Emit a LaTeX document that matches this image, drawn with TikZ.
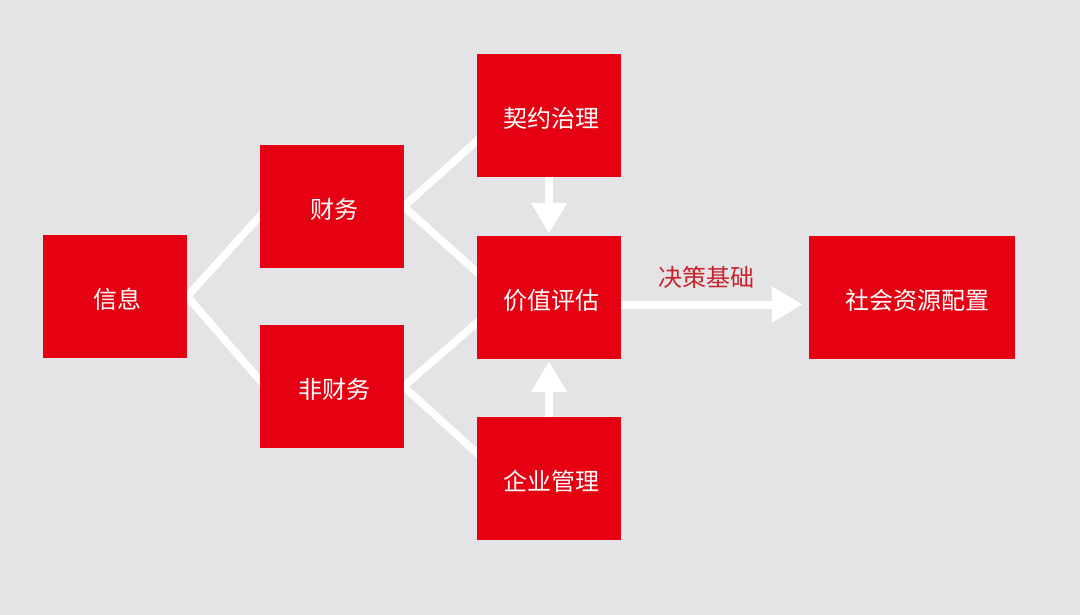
\documentclass[tikz,border=0pt]{standalone}
\usepackage{fontspec}
\setmainfont{Noto Sans CJK SC}
\usetikzlibrary{arrows.meta}
\pgfdeclarelayer{background}
\pgfsetlayers{background,main}
\definecolor{bg}{HTML}{E4E4E6}
\definecolor{boxred}{HTML}{E50012}
\definecolor{labred}{HTML}{C9232B}
\newcommand{\boxtxt}[1]{\raisebox{-12pt}[0pt][0pt]{\hspace{5pt}#1}}
\begin{document}
\begin{tikzpicture}[x=1pt,y=-1pt,
  box/.style={fill=boxred, draw=none, inner sep=0pt, text=white,
    minimum width=144pt, minimum height=123pt,
    font=\fontsize{24}{28}\selectfont},
  link/.style={draw=white, line width=7.5pt, line join=miter},
  arr/.style={draw=white, line width=8pt, -{Triangle[width=34pt,length=31pt]}}]
\node[box] (xinxi) at (115,296.5) {\boxtxt{信息}};
\node[box] (caiwu) at (331.5,206.5) {\boxtxt{财务}};
\node[box] (feicaiwu) at (331.5,386.5) {\boxtxt{非财务}};
\node[box] (qiyue) at (549,115.5) {\boxtxt{契约治理}};
\node[box] (jiazhi) at (549,297.5) {\boxtxt{价值评估}};
\node[box] (qiye) at (549,478.5) {\boxtxt{企业管理}};
\node[box, minimum width=206pt] (shehui) at (912,297.5) {\boxtxt{\hspace{5pt}社会资源配置}};
\node[text=labred, font=\fontsize{24}{28}\selectfont] (jueceji) at (706,277) {决策基础};
\begin{pgfonlayer}{background}
\fill[bg] (0,0) rectangle (1080,615);
\draw[link] ([xshift=6pt,yshift=-3.5pt]caiwu.west) -- (xinxi.east) -- ([xshift=6pt]feicaiwu.west);
\draw[link] ([xshift=6pt,yshift=-20pt]qiyue.west) -- (caiwu.east) -- ([xshift=6pt,yshift=20pt]jiazhi.west);
\draw[link] ([xshift=6pt,yshift=-20pt]jiazhi.west) -- (feicaiwu.east) -- ([xshift=6pt,yshift=20pt]qiye.west);
\end{pgfonlayer}
\draw[arr] (qiyue.south) -- ([yshift=2pt]jiazhi.north);
\draw[arr] (qiye.north) -- ([yshift=-2pt]jiazhi.south);
\draw[arr] ([yshift=-7pt]jiazhi.east) -- ([xshift=-6pt,yshift=-7pt]shehui.west);
\end{tikzpicture}
\end{document}
